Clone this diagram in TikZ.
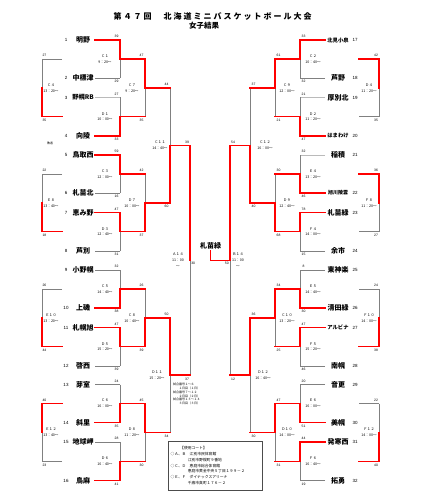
\documentclass[tikz,border=0pt]{standalone}
\usepackage{fontspec}
\setmainfont{Liberation Sans}
\newfontfamily\cjk{Noto Sans CJK JP}
\newfontfamily\cjkls[LetterSpace=25]{Noto Sans CJK JP}
\usetikzlibrary{calc}
\newcommand\brk[5]{%
  \coordinate (tmp) at (#2,0);
  \coordinate (#1t) at (tmp |- #3);
  \coordinate (#1b) at (tmp |- #4);
  \coordinate (#1m) at ($(#1t)!0.5!(#1b)$);
  \ifnum#5=1\relax
    \draw[lose] (#1m) -- (#1b); \draw[win] (#1t) -- (#1m);
  \else
    \draw[lose] (#1t) -- (#1m); \draw[win] (#1m) -- (#1b);
  \fi}
\newcommand\cons[6]{%
  \brk{#1}{#2}{#4}{#5}{#6}%
  \coordinate (tmp) at (#3,0);
  \coordinate (#1ts) at (tmp |- #1t);
  \coordinate (#1bs) at (tmp |- #1b);
  \ifnum#6=1\relax
    \draw[lose] (#1bs) -- (#1b); \draw[win] (#1ts) -- (#1t);
  \else
    \draw[lose] (#1ts) -- (#1t); \draw[win] (#1bs) -- (#1b);
  \fi}
\newcommand\teamL[5]{%
  \node[tnum] (n#1) at (66,#3) {#1};
  \node[tname] (t#1) at (83,#3) {\fontsize{#5}{#5}\selectfont #2};
  \coordinate (a#1) at (95,#3);
  \coordinate (b#1) at (120,#3);
  \draw[#4] (a#1) -- (b#1);}
\newcommand\teamR[5]{%
  \node[tnum] (n#1) at (355,#3) {#1};
  \node[tname] (t#1) at (338,#3) {\fontsize{#5}{#5}\selectfont #2};
  \coordinate (a#1) at (325,#3);
  \coordinate (b#1) at (300,#3);
  \draw[#4] (a#1) -- (b#1);}
\newcommand\scx[4]{%
  \node[sc] (#1st) at ($(#1t)+(#2,-3.5)$) {#3};
  \node[sc] (#1sb) at ($(#1b)+(#2,3.7)$) {#4};}
\newcommand\ml[4]{\node[mt] (L#1) at ($(#1m)+(#2,0)$) {#3\\#4};}
\begin{document}
\begin{tikzpicture}[x=1pt,y=-1pt,
  win/.style={draw=red,line width=1.4pt,line cap=rect},
  lose/.style={draw=black!50,line width=0.7pt},
  lite/.style={draw=black!27,line width=0.7pt},
  tname/.style={font=\cjk\bfseries,inner sep=0pt},
  tnum/.style={font=\fontsize{4.5}{4.5}\selectfont,inner sep=0pt},
  sc/.style={font=\fontsize{3.4}{3.4}\selectfont,inner sep=0pt},
  mt/.style={font=\cjk\fontsize{3.6}{5.7}\selectfont,align=center,inner sep=0pt}]
\useasboundingbox (0,0) rectangle (428,500);
\node[font=\cjkls\bfseries\fontsize{8}{8}\selectfont,inner sep=0pt] (title) at (212.5,16) {第４７回　北海道ミニバスケットボール大会};
\node[font=\cjk\bfseries\fontsize{7.5}{7.5}\selectfont,inner sep=0pt] (sub) at (204,25.5) {女子結果};
% teams left
\teamL{1}{明野}{40}{win}{7}
\teamL{2}{中標津}{78}{lose}{7}
\teamL{3}{野幌RB}{97.5}{lite}{6.3}
\teamL{4}{向陵}{136}{win}{7}
\teamL{5}{鳥取西}{155}{win}{7}
\teamL{6}{札苗北}{193}{lose}{7}
\teamL{7}{恵み野}{212.5}{win}{7}
\teamL{8}{芦別}{251}{lose}{7}
\teamL{9}{小野幌}{270}{lose}{7}
\teamL{10}{上磯}{308}{win}{7}
\teamL{11}{札幌旭}{327.5}{win}{7}
\teamL{12}{啓西}{366}{lose}{7}
\teamL{13}{芽室}{384.5}{lose}{7}
\teamL{14}{斜里}{422.5}{win}{7}
\teamL{15}{地球岬}{442}{lose}{7}
\teamL{16}{鳥麻}{480.5}{win}{7}
% teams right
\teamR{17}{北見小泉}{40}{win}{5.3}
\teamR{18}{芦野}{78}{lose}{7}
\teamR{19}{厚別北}{97.5}{lite}{7}
\teamR{20}{はまわけ}{136}{win}{5.3}
\teamR{21}{稲積}{155}{lite}{7}
\teamR{22}{旭川陵雲}{193}{win}{5}
\teamR{23}{札苗緑}{212.5}{win}{7}
\teamR{24}{余市}{251}{lose}{7}
\teamR{25}{東神楽}{270}{lose}{7}
\teamR{26}{清田緑}{308}{win}{7}
\teamR{27}{アルビナ}{327.5}{win}{5.3}
\teamR{28}{南幌}{366}{lose}{7}
\teamR{29}{音更}{384.5}{lose}{7}
\teamR{30}{美幌}{422.5}{win}{7}
\teamR{31}{発寒西}{442}{win}{7}
\teamR{32}{拓勇}{480.5}{lose}{7}
% first round left
\brk{C1}{120}{b1}{b2}{1}
\brk{D1}{120}{b3}{b4}{2}
\brk{C3}{120}{b5}{b6}{1}
\brk{D3}{120}{b7}{b8}{1}
\brk{C5}{120}{b9}{b10}{2}
\brk{D5}{120}{b11}{b12}{1}
\brk{C6}{120}{b13}{b14}{2}
\brk{D6}{120}{b15}{b16}{2}
\brk{C7}{145}{C1m}{D1m}{1}
\brk{D7}{145}{C3m}{D3m}{2}
\brk{C8}{145}{C5m}{D5m}{2}
\brk{D8}{145}{C6m}{D6m}{1}
\brk{C11}{170}{C7m}{D7m}{2}
\brk{D11}{170}{C8m}{D8m}{1}
\brk{A14}{190}{C11m}{D11m}{1}
% first round right
\brk{C2}{300}{b17}{b18}{1}
\brk{D2}{300}{b19}{b20}{2}
\brk{E4}{300}{b21}{b22}{2}
\brk{F4}{300}{b23}{b24}{1}
\brk{E5}{300}{b25}{b26}{2}
\brk{F5}{300}{b27}{b28}{1}
\brk{E6}{300}{b29}{b30}{2}
\brk{F6}{300}{b31}{b32}{1}
\brk{C9}{275}{C2m}{D2m}{1}
\brk{D9}{275}{E4m}{F4m}{2}
\brk{C10}{275}{E5m}{F5m}{1}
\brk{D10}{275}{E6m}{F6m}{1}
\brk{C12}{250}{C9m}{D9m}{2}
\brk{D12}{250}{C10m}{D10m}{1}
\brk{B14}{230}{C12m}{D12m}{1}
% connectors (winners)
\draw[win] (C1m) -- (C7t); \draw[win] (D1m) -- (C7b);
\draw[win] (C3m) -- (D7t); \draw[win] (D3m) -- (D7b);
\draw[win] (C5m) -- (C8t); \draw[win] (D5m) -- (C8b);
\draw[win] (C6m) -- (D8t); \draw[win] (D6m) -- (D8b);
\draw[win] (C7m) -- (C11t); \draw[win] (D7m) -- (C11b);
\draw[win] (C8m) -- (D11t); \draw[win] (D8m) -- (D11b);
\draw[win] (C11m) -- (A14t); \draw[win] (D11m) -- (A14b);
\draw[win] (C2m) -- (C9t); \draw[win] (D2m) -- (C9b);
\draw[win] (E4m) -- (D9t); \draw[win] (F4m) -- (D9b);
\draw[win] (E5m) -- (C10t); \draw[win] (F5m) -- (C10b);
\draw[win] (E6m) -- (D10t); \draw[win] (F6m) -- (D10b);
\draw[win] (C9m) -- (C12t); \draw[win] (D9m) -- (C12b);
\draw[win] (C10m) -- (D12t); \draw[win] (D10m) -- (D12b);
\draw[win] (C12m) -- (B14t); \draw[win] (D12m) -- (B14b);
% consolation
\cons{C4}{42}{62}{C1m}{D1m}{2}
\cons{E8}{42}{62}{C3m}{D3m}{2}
\cons{E10}{42}{62}{C5m}{D5m}{2}
\cons{E12}{42}{62}{C6m}{D6m}{1}
\cons{D4}{379}{359}{C2m}{D2m}{1}
\cons{F8}{379}{359}{E4m}{F4m}{1}
\cons{F10}{379}{359}{E5m}{F5m}{2}
\cons{F12}{379}{359}{E6m}{F6m}{2}
% final
\node[font=\cjk\bfseries\fontsize{7}{7}\selectfont,inner sep=0.8pt] (champ) at (210.5,246) {札苗緑};
\coordinate (tmp) at (210.5,0);
\coordinate (fin) at (tmp |- B14m);
\draw[win] (B14m) -- (fin) -- (champ.south);
\node[sc] (fa) at ($(A14m)+(3.2,3.5)$) {30};
\node[sc] (fb) at ($(B14m)+(-3.2,3.5)$) {50};
% scores
\scx{C1}{-3.5}{39}{29}
\scx{D1}{-3.5}{27}{33}
\scx{C3}{-3.5}{59}{16}
\scx{D3}{-3.5}{47}{31}
\scx{C5}{-3.5}{32}{38}
\scx{D5}{-3.5}{47}{39}
\scx{C6}{-3.5}{24}{35}
\scx{D6}{-3.5}{28}{41}
\scx{C7}{-3.5}{47}{35}
\scx{D7}{-3.5}{42}{37}
\scx{C8}{-3.5}{26}{39}
\scx{D8}{-3.5}{45}{30}
\scx{C11}{-3.5}{44}{60}
\scx{D11}{-3.5}{50}{34}
\scx{A14}{-3}{39}{37}
\scx{C4}{2.5}{27}{35}
\scx{E8}{2.5}{22}{18}
\scx{E10}{2.5}{26}{44}
\scx{E12}{2.5}{40}{23}
\scx{C2}{3.5}{33}{32}
\scx{D2}{3.5}{21}{47}
\scx{E4}{3.5}{32}{46}
\scx{F4}{3.5}{78}{15}
\scx{E5}{3.5}{8}{30}
\scx{F5}{3.5}{47}{46}
\scx{E6}{3.5}{20}{51}
\scx{F6}{3.5}{44}{19}
\scx{C9}{3.5}{61}{21}
\scx{D9}{3.5}{30}{68}
\scx{C10}{3.5}{34}{25}
\scx{D10}{3.5}{47}{31}
\scx{C12}{3.5}{37}{40}
\scx{D12}{3.5}{36}{30}
\scx{B14}{3}{54}{12}
\scx{D4}{-3}{42}{35}
\scx{F8}{-3}{36}{27}
\scx{F10}{-3}{24}{38}
\scx{F12}{-3}{22}{40}
% match labels
\ml{C1}{-15}{Ｃ１}{9：20～}
\ml{D1}{-15}{Ｄ１}{10：00～}
\ml{C3}{-15}{Ｃ３}{12：00～}
\ml{D3}{-15}{Ｄ３}{12：40～}
\ml{C5}{-15}{Ｃ５}{14：40～}
\ml{D5}{-15}{Ｄ５}{15：20～}
\ml{C6}{-15}{Ｃ６}{16：00～}
\ml{D6}{-15}{Ｄ６}{16：40～}
\ml{C7}{-13}{Ｃ７}{9：20～}
\ml{D7}{-13}{Ｄ７}{10：00～}
\ml{C8}{-13}{Ｃ８}{10：40～}
\ml{D8}{-13}{Ｄ８}{11：20～}
\ml{C11}{-10}{Ｃ１１}{14：40～}
\ml{D11}{-13}{Ｄ１１}{15：20～}
\ml{C4}{9}{Ｃ４}{13：20～}
\ml{E8}{9}{Ｅ８}{13：40～}
\ml{E10}{9}{Ｅ１０}{13：20～}
\ml{E12}{9}{Ｅ１２}{13：40～}
\ml{C2}{13}{Ｃ２}{10：40～}
\ml{D2}{13}{Ｄ２}{11：20～}
\ml{E4}{13}{Ｅ４}{13：20～}
\ml{F4}{13}{Ｆ４}{14：00～}
\ml{E5}{13}{Ｅ５}{14：40～}
\ml{F5}{13}{Ｆ５}{15：20～}
\ml{E6}{13}{Ｅ６}{16：00～}
\ml{F6}{13}{Ｆ６}{16：40～}
\ml{C9}{12}{Ｃ９}{12：00～}
\ml{D9}{12}{Ｄ９}{12：40～}
\ml{C10}{12}{Ｃ１０}{13：20～}
\ml{D10}{12}{Ｄ１０}{14：00～}
\ml{C12}{15}{Ｃ１２}{16：00～}
\ml{D12}{13}{Ｄ１２}{16：40～}
\ml{D4}{-10}{Ｄ４}{11：20～}
\ml{F8}{-10}{Ｆ８}{11：20～}
\ml{F10}{-10}{Ｆ１０}{14：00～}
\ml{F12}{-10}{Ｆ１２}{14：00～}
\node[mt] (LA14) at ($(A14m)+(-12,0)$) {Ａ１４\\11：00\\～};
\node[mt] (LB14) at ($(B14m)+(8,0)$) {Ｂ１４\\11：00\\～};
\node[font=\cjk\fontsize{3}{3}\selectfont,inner sep=0pt] (haisha) at (50,143) {敗者};
% notes
\node[anchor=north west,font=\cjk\fontsize{3}{3.8}\selectfont,align=left,inner sep=0pt] (note) at (173,383)
  {試合番号１～６\\　　１日目（１日）\\試合番号７～１２\\　　２日目（２日）\\試合番号１３～１４\\　　３日目（３日）};
\node[draw=black!70,line width=0.4pt,anchor=north west,minimum width=94pt,minimum height=49pt,inner sep=2.5pt,text width=89pt,align=left,font=\cjk\fontsize{3.8}{5.8}\selectfont] (legend) at (168,441)
  {\hspace*{2.5em}【使用コート】\\○Ａ、Ｂ　江別市民体育館\\\hspace*{4.5em}江別市野幌町９番地\\○Ｃ、Ｄ　恵庭市総合体育館\\\hspace*{4.5em}恵庭市黄金中央５丁目１９９－２\\○Ｅ、Ｆ　ダイナックスアリーナ\\\hspace*{4.5em}千歳市真町１７６－２};
\end{tikzpicture}
\end{document}
